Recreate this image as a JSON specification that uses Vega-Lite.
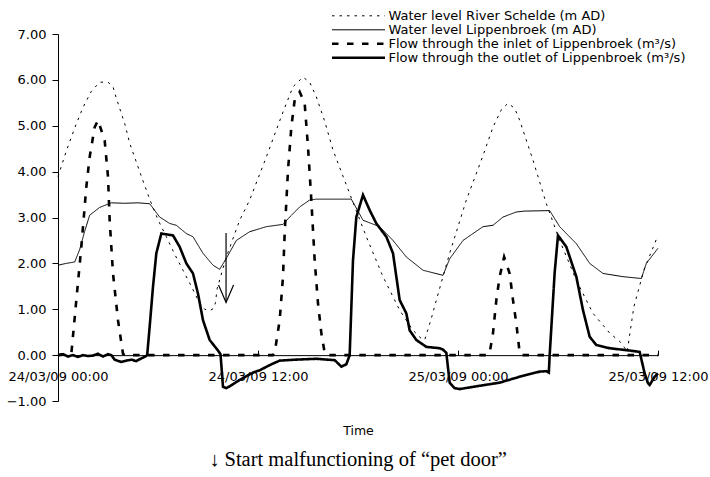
{
  "$schema": "https://vega.github.io/schema/vega-lite/v6.json",
  "width": 600,
  "height": 367,
  "autosize": {"type": "none"},
  "padding": {"left": 58, "top": 34, "right": 52, "bottom": 76},
  "background": "white",
  "config": {"view": {"stroke": null}, "font": "DejaVu Sans"},
  "title": {"text": "↓ Start malfunctioning of “pet door”", "orient": "bottom", "anchor": "middle", "font": "Liberation Serif", "fontSize": 20.5, "fontWeight": "normal", "color": "black", "offset": 13},
  "datasets": {
    "series": [
      {"series": "Water level River Schelde (m AD)", "time": "2009-03-24T00:00", "value": 3.89},
      {"series": "Water level River Schelde (m AD)", "time": "2009-03-24T00:30", "value": 4.45},
      {"series": "Water level River Schelde (m AD)", "time": "2009-03-24T01:00", "value": 4.95},
      {"series": "Water level River Schelde (m AD)", "time": "2009-03-24T01:30", "value": 5.4},
      {"series": "Water level River Schelde (m AD)", "time": "2009-03-24T02:00", "value": 5.75},
      {"series": "Water level River Schelde (m AD)", "time": "2009-03-24T02:30", "value": 5.95},
      {"series": "Water level River Schelde (m AD)", "time": "2009-03-24T03:00", "value": 5.95},
      {"series": "Water level River Schelde (m AD)", "time": "2009-03-24T03:18", "value": 5.85},
      {"series": "Water level River Schelde (m AD)", "time": "2009-03-24T03:30", "value": 5.6},
      {"series": "Water level River Schelde (m AD)", "time": "2009-03-24T04:00", "value": 5.05},
      {"series": "Water level River Schelde (m AD)", "time": "2009-03-24T04:18", "value": 4.62},
      {"series": "Water level River Schelde (m AD)", "time": "2009-03-24T05:00", "value": 3.9},
      {"series": "Water level River Schelde (m AD)", "time": "2009-03-24T05:30", "value": 3.4},
      {"series": "Water level River Schelde (m AD)", "time": "2009-03-24T06:00", "value": 2.95},
      {"series": "Water level River Schelde (m AD)", "time": "2009-03-24T06:30", "value": 2.58},
      {"series": "Water level River Schelde (m AD)", "time": "2009-03-24T07:00", "value": 2.2},
      {"series": "Water level River Schelde (m AD)", "time": "2009-03-24T07:30", "value": 1.85},
      {"series": "Water level River Schelde (m AD)", "time": "2009-03-24T08:00", "value": 1.5},
      {"series": "Water level River Schelde (m AD)", "time": "2009-03-24T08:30", "value": 1.13},
      {"series": "Water level River Schelde (m AD)", "time": "2009-03-24T08:48", "value": 1.0},
      {"series": "Water level River Schelde (m AD)", "time": "2009-03-24T09:06", "value": 0.97},
      {"series": "Water level River Schelde (m AD)", "time": "2009-03-24T09:21", "value": 1.02},
      {"series": "Water level River Schelde (m AD)", "time": "2009-03-24T09:27", "value": 1.15},
      {"series": "Water level River Schelde (m AD)", "time": "2009-03-24T09:33", "value": 1.45},
      {"series": "Water level River Schelde (m AD)", "time": "2009-03-24T10:06", "value": 2.14},
      {"series": "Water level River Schelde (m AD)", "time": "2009-03-24T10:54", "value": 2.94},
      {"series": "Water level River Schelde (m AD)", "time": "2009-03-24T11:30", "value": 3.38},
      {"series": "Water level River Schelde (m AD)", "time": "2009-03-24T12:30", "value": 4.32},
      {"series": "Water level River Schelde (m AD)", "time": "2009-03-24T13:30", "value": 5.3},
      {"series": "Water level River Schelde (m AD)", "time": "2009-03-24T14:06", "value": 5.85},
      {"series": "Water level River Schelde (m AD)", "time": "2009-03-24T14:42", "value": 6.06},
      {"series": "Water level River Schelde (m AD)", "time": "2009-03-24T15:06", "value": 5.95},
      {"series": "Water level River Schelde (m AD)", "time": "2009-03-24T15:30", "value": 5.63},
      {"series": "Water level River Schelde (m AD)", "time": "2009-03-24T16:00", "value": 5.1},
      {"series": "Water level River Schelde (m AD)", "time": "2009-03-24T16:30", "value": 4.47},
      {"series": "Water level River Schelde (m AD)", "time": "2009-03-24T17:30", "value": 3.52},
      {"series": "Water level River Schelde (m AD)", "time": "2009-03-24T18:30", "value": 2.58},
      {"series": "Water level River Schelde (m AD)", "time": "2009-03-24T19:30", "value": 1.71},
      {"series": "Water level River Schelde (m AD)", "time": "2009-03-24T20:30", "value": 0.98},
      {"series": "Water level River Schelde (m AD)", "time": "2009-03-24T21:18", "value": 0.54},
      {"series": "Water level River Schelde (m AD)", "time": "2009-03-24T21:48", "value": 0.36},
      {"series": "Water level River Schelde (m AD)", "time": "2009-03-24T22:00", "value": 0.33},
      {"series": "Water level River Schelde (m AD)", "time": "2009-03-24T22:24", "value": 0.8},
      {"series": "Water level River Schelde (m AD)", "time": "2009-03-24T22:42", "value": 1.2},
      {"series": "Water level River Schelde (m AD)", "time": "2009-03-24T23:30", "value": 2.22},
      {"series": "Water level River Schelde (m AD)", "time": "2009-03-25T00:30", "value": 3.38},
      {"series": "Water level River Schelde (m AD)", "time": "2009-03-25T01:30", "value": 4.35},
      {"series": "Water level River Schelde (m AD)", "time": "2009-03-25T02:06", "value": 4.97},
      {"series": "Water level River Schelde (m AD)", "time": "2009-03-25T02:36", "value": 5.35},
      {"series": "Water level River Schelde (m AD)", "time": "2009-03-25T03:00", "value": 5.49},
      {"series": "Water level River Schelde (m AD)", "time": "2009-03-25T03:24", "value": 5.38},
      {"series": "Water level River Schelde (m AD)", "time": "2009-03-25T03:42", "value": 5.12},
      {"series": "Water level River Schelde (m AD)", "time": "2009-03-25T04:30", "value": 4.25},
      {"series": "Water level River Schelde (m AD)", "time": "2009-03-25T05:18", "value": 3.3},
      {"series": "Water level River Schelde (m AD)", "time": "2009-03-25T06:06", "value": 2.5},
      {"series": "Water level River Schelde (m AD)", "time": "2009-03-25T07:06", "value": 1.63},
      {"series": "Water level River Schelde (m AD)", "time": "2009-03-25T08:06", "value": 0.91},
      {"series": "Water level River Schelde (m AD)", "time": "2009-03-25T09:06", "value": 0.48},
      {"series": "Water level River Schelde (m AD)", "time": "2009-03-25T09:42", "value": 0.3},
      {"series": "Water level River Schelde (m AD)", "time": "2009-03-25T10:00", "value": 0.16},
      {"series": "Water level River Schelde (m AD)", "time": "2009-03-25T10:09", "value": 0.07},
      {"series": "Water level River Schelde (m AD)", "time": "2009-03-25T10:33", "value": 1.05},
      {"series": "Water level River Schelde (m AD)", "time": "2009-03-25T11:09", "value": 1.85},
      {"series": "Water level River Schelde (m AD)", "time": "2009-03-25T12:00", "value": 2.61},

      {"series": "Water level Lippenbroek (m AD)", "time": "2009-03-24T00:00", "value": 1.96},
      {"series": "Water level Lippenbroek (m AD)", "time": "2009-03-24T00:30", "value": 2.0},
      {"series": "Water level Lippenbroek (m AD)", "time": "2009-03-24T01:00", "value": 2.03},
      {"series": "Water level Lippenbroek (m AD)", "time": "2009-03-24T01:18", "value": 2.3},
      {"series": "Water level Lippenbroek (m AD)", "time": "2009-03-24T01:36", "value": 2.7},
      {"series": "Water level Lippenbroek (m AD)", "time": "2009-03-24T01:54", "value": 3.05},
      {"series": "Water level Lippenbroek (m AD)", "time": "2009-03-24T02:30", "value": 3.22},
      {"series": "Water level Lippenbroek (m AD)", "time": "2009-03-24T03:12", "value": 3.32},
      {"series": "Water level Lippenbroek (m AD)", "time": "2009-03-24T04:00", "value": 3.31},
      {"series": "Water level Lippenbroek (m AD)", "time": "2009-03-24T04:48", "value": 3.32},
      {"series": "Water level Lippenbroek (m AD)", "time": "2009-03-24T05:30", "value": 3.3},
      {"series": "Water level Lippenbroek (m AD)", "time": "2009-03-24T06:06", "value": 3.01},
      {"series": "Water level Lippenbroek (m AD)", "time": "2009-03-24T06:42", "value": 2.87},
      {"series": "Water level Lippenbroek (m AD)", "time": "2009-03-24T07:06", "value": 2.83},
      {"series": "Water level Lippenbroek (m AD)", "time": "2009-03-24T07:42", "value": 2.65},
      {"series": "Water level Lippenbroek (m AD)", "time": "2009-03-24T08:06", "value": 2.58},
      {"series": "Water level Lippenbroek (m AD)", "time": "2009-03-24T08:42", "value": 2.22},
      {"series": "Water level Lippenbroek (m AD)", "time": "2009-03-24T09:18", "value": 1.96},
      {"series": "Water level Lippenbroek (m AD)", "time": "2009-03-24T09:42", "value": 1.87},
      {"series": "Water level Lippenbroek (m AD)", "time": "2009-03-24T10:06", "value": 2.11},
      {"series": "Water level Lippenbroek (m AD)", "time": "2009-03-24T10:42", "value": 2.5},
      {"series": "Water level Lippenbroek (m AD)", "time": "2009-03-24T11:30", "value": 2.69},
      {"series": "Water level Lippenbroek (m AD)", "time": "2009-03-24T12:30", "value": 2.8},
      {"series": "Water level Lippenbroek (m AD)", "time": "2009-03-24T13:30", "value": 2.85},
      {"series": "Water level Lippenbroek (m AD)", "time": "2009-03-24T13:54", "value": 3.01},
      {"series": "Water level Lippenbroek (m AD)", "time": "2009-03-24T14:30", "value": 3.23},
      {"series": "Water level Lippenbroek (m AD)", "time": "2009-03-24T15:06", "value": 3.38},
      {"series": "Water level Lippenbroek (m AD)", "time": "2009-03-24T15:30", "value": 3.4},
      {"series": "Water level Lippenbroek (m AD)", "time": "2009-03-24T17:36", "value": 3.4},
      {"series": "Water level Lippenbroek (m AD)", "time": "2009-03-24T18:18", "value": 2.94},
      {"series": "Water level Lippenbroek (m AD)", "time": "2009-03-24T19:18", "value": 2.8},
      {"series": "Water level Lippenbroek (m AD)", "time": "2009-03-24T20:06", "value": 2.5},
      {"series": "Water level Lippenbroek (m AD)", "time": "2009-03-24T20:54", "value": 2.14},
      {"series": "Water level Lippenbroek (m AD)", "time": "2009-03-24T21:54", "value": 1.85},
      {"series": "Water level Lippenbroek (m AD)", "time": "2009-03-24T23:06", "value": 1.74},
      {"series": "Water level Lippenbroek (m AD)", "time": "2009-03-24T23:30", "value": 2.1},
      {"series": "Water level Lippenbroek (m AD)", "time": "2009-03-25T00:18", "value": 2.5},
      {"series": "Water level Lippenbroek (m AD)", "time": "2009-03-25T01:30", "value": 2.8},
      {"series": "Water level Lippenbroek (m AD)", "time": "2009-03-25T02:06", "value": 2.83},
      {"series": "Water level Lippenbroek (m AD)", "time": "2009-03-25T02:42", "value": 3.01},
      {"series": "Water level Lippenbroek (m AD)", "time": "2009-03-25T03:30", "value": 3.12},
      {"series": "Water level Lippenbroek (m AD)", "time": "2009-03-25T04:00", "value": 3.14},
      {"series": "Water level Lippenbroek (m AD)", "time": "2009-03-25T05:30", "value": 3.15},
      {"series": "Water level Lippenbroek (m AD)", "time": "2009-03-25T06:06", "value": 2.8},
      {"series": "Water level Lippenbroek (m AD)", "time": "2009-03-25T07:06", "value": 2.43},
      {"series": "Water level Lippenbroek (m AD)", "time": "2009-03-25T07:54", "value": 2.0},
      {"series": "Water level Lippenbroek (m AD)", "time": "2009-03-25T08:42", "value": 1.78},
      {"series": "Water level Lippenbroek (m AD)", "time": "2009-03-25T09:54", "value": 1.71},
      {"series": "Water level Lippenbroek (m AD)", "time": "2009-03-25T11:00", "value": 1.67},
      {"series": "Water level Lippenbroek (m AD)", "time": "2009-03-25T11:18", "value": 2.0},
      {"series": "Water level Lippenbroek (m AD)", "time": "2009-03-25T12:00", "value": 2.33},

      {"series": "Flow through the inlet of Lippenbroek (m³/s)", "time": "2009-03-24T00:00", "value": 0},
      {"series": "Flow through the inlet of Lippenbroek (m³/s)", "time": "2009-03-24T00:48", "value": 0.03},
      {"series": "Flow through the inlet of Lippenbroek (m³/s)", "time": "2009-03-24T01:06", "value": 1.2},
      {"series": "Flow through the inlet of Lippenbroek (m³/s)", "time": "2009-03-24T01:24", "value": 2.36},
      {"series": "Flow through the inlet of Lippenbroek (m³/s)", "time": "2009-03-24T01:42", "value": 3.67},
      {"series": "Flow through the inlet of Lippenbroek (m³/s)", "time": "2009-03-24T01:54", "value": 4.32},
      {"series": "Flow through the inlet of Lippenbroek (m³/s)", "time": "2009-03-24T02:12", "value": 4.97},
      {"series": "Flow through the inlet of Lippenbroek (m³/s)", "time": "2009-03-24T02:24", "value": 5.12},
      {"series": "Flow through the inlet of Lippenbroek (m³/s)", "time": "2009-03-24T02:48", "value": 4.68},
      {"series": "Flow through the inlet of Lippenbroek (m³/s)", "time": "2009-03-24T03:00", "value": 3.89},
      {"series": "Flow through the inlet of Lippenbroek (m³/s)", "time": "2009-03-24T03:06", "value": 2.94},
      {"series": "Flow through the inlet of Lippenbroek (m³/s)", "time": "2009-03-24T03:18", "value": 1.78},
      {"series": "Flow through the inlet of Lippenbroek (m³/s)", "time": "2009-03-24T03:36", "value": 0.76},
      {"series": "Flow through the inlet of Lippenbroek (m³/s)", "time": "2009-03-24T03:54", "value": 0.03},
      {"series": "Flow through the inlet of Lippenbroek (m³/s)", "time": "2009-03-24T04:00", "value": 0},
      {"series": "Flow through the inlet of Lippenbroek (m³/s)", "time": "2009-03-24T12:54", "value": 0},
      {"series": "Flow through the inlet of Lippenbroek (m³/s)", "time": "2009-03-24T13:00", "value": 0.05},
      {"series": "Flow through the inlet of Lippenbroek (m³/s)", "time": "2009-03-24T13:18", "value": 0.76},
      {"series": "Flow through the inlet of Lippenbroek (m³/s)", "time": "2009-03-24T13:30", "value": 1.71},
      {"series": "Flow through the inlet of Lippenbroek (m³/s)", "time": "2009-03-24T13:36", "value": 2.65},
      {"series": "Flow through the inlet of Lippenbroek (m³/s)", "time": "2009-03-24T13:48", "value": 4.03},
      {"series": "Flow through the inlet of Lippenbroek (m³/s)", "time": "2009-03-24T14:00", "value": 4.97},
      {"series": "Flow through the inlet of Lippenbroek (m³/s)", "time": "2009-03-24T14:12", "value": 5.56},
      {"series": "Flow through the inlet of Lippenbroek (m³/s)", "time": "2009-03-24T14:30", "value": 5.74},
      {"series": "Flow through the inlet of Lippenbroek (m³/s)", "time": "2009-03-24T14:48", "value": 5.49},
      {"series": "Flow through the inlet of Lippenbroek (m³/s)", "time": "2009-03-24T15:00", "value": 4.54},
      {"series": "Flow through the inlet of Lippenbroek (m³/s)", "time": "2009-03-24T15:12", "value": 3.38},
      {"series": "Flow through the inlet of Lippenbroek (m³/s)", "time": "2009-03-24T15:24", "value": 2.07},
      {"series": "Flow through the inlet of Lippenbroek (m³/s)", "time": "2009-03-24T15:36", "value": 1.13},
      {"series": "Flow through the inlet of Lippenbroek (m³/s)", "time": "2009-03-24T15:48", "value": 0.48},
      {"series": "Flow through the inlet of Lippenbroek (m³/s)", "time": "2009-03-24T16:00", "value": 0.05},
      {"series": "Flow through the inlet of Lippenbroek (m³/s)", "time": "2009-03-24T16:06", "value": 0},
      {"series": "Flow through the inlet of Lippenbroek (m³/s)", "time": "2009-03-25T01:48", "value": 0},
      {"series": "Flow through the inlet of Lippenbroek (m³/s)", "time": "2009-03-25T01:54", "value": 0.05},
      {"series": "Flow through the inlet of Lippenbroek (m³/s)", "time": "2009-03-25T02:06", "value": 0.48},
      {"series": "Flow through the inlet of Lippenbroek (m³/s)", "time": "2009-03-25T02:18", "value": 1.2},
      {"series": "Flow through the inlet of Lippenbroek (m³/s)", "time": "2009-03-25T02:30", "value": 1.71},
      {"series": "Flow through the inlet of Lippenbroek (m³/s)", "time": "2009-03-25T02:46", "value": 2.14},
      {"series": "Flow through the inlet of Lippenbroek (m³/s)", "time": "2009-03-25T03:06", "value": 1.78},
      {"series": "Flow through the inlet of Lippenbroek (m³/s)", "time": "2009-03-25T03:18", "value": 1.2},
      {"series": "Flow through the inlet of Lippenbroek (m³/s)", "time": "2009-03-25T03:30", "value": 0.69},
      {"series": "Flow through the inlet of Lippenbroek (m³/s)", "time": "2009-03-25T03:42", "value": 0.05},
      {"series": "Flow through the inlet of Lippenbroek (m³/s)", "time": "2009-03-25T03:48", "value": 0},
      {"series": "Flow through the inlet of Lippenbroek (m³/s)", "time": "2009-03-25T12:00", "value": 0},

      {"series": "Flow through the outlet of Lippenbroek (m³/s)", "time": "2009-03-24T00:00", "value": 0.0},
      {"series": "Flow through the outlet of Lippenbroek (m³/s)", "time": "2009-03-24T00:18", "value": 0.02},
      {"series": "Flow through the outlet of Lippenbroek (m³/s)", "time": "2009-03-24T00:36", "value": -0.03},
      {"series": "Flow through the outlet of Lippenbroek (m³/s)", "time": "2009-03-24T00:54", "value": 0.0},
      {"series": "Flow through the outlet of Lippenbroek (m³/s)", "time": "2009-03-24T01:12", "value": -0.04},
      {"series": "Flow through the outlet of Lippenbroek (m³/s)", "time": "2009-03-24T01:30", "value": 0.0},
      {"series": "Flow through the outlet of Lippenbroek (m³/s)", "time": "2009-03-24T01:48", "value": -0.02},
      {"series": "Flow through the outlet of Lippenbroek (m³/s)", "time": "2009-03-24T02:06", "value": -0.01},
      {"series": "Flow through the outlet of Lippenbroek (m³/s)", "time": "2009-03-24T02:24", "value": 0.03},
      {"series": "Flow through the outlet of Lippenbroek (m³/s)", "time": "2009-03-24T02:42", "value": -0.03},
      {"series": "Flow through the outlet of Lippenbroek (m³/s)", "time": "2009-03-24T03:00", "value": 0.02},
      {"series": "Flow through the outlet of Lippenbroek (m³/s)", "time": "2009-03-24T03:12", "value": 0.0},
      {"series": "Flow through the outlet of Lippenbroek (m³/s)", "time": "2009-03-24T03:24", "value": -0.1},
      {"series": "Flow through the outlet of Lippenbroek (m³/s)", "time": "2009-03-24T03:48", "value": -0.15},
      {"series": "Flow through the outlet of Lippenbroek (m³/s)", "time": "2009-03-24T04:06", "value": -0.12},
      {"series": "Flow through the outlet of Lippenbroek (m³/s)", "time": "2009-03-24T04:24", "value": -0.1},
      {"series": "Flow through the outlet of Lippenbroek (m³/s)", "time": "2009-03-24T04:42", "value": -0.13},
      {"series": "Flow through the outlet of Lippenbroek (m³/s)", "time": "2009-03-24T05:00", "value": -0.07},
      {"series": "Flow through the outlet of Lippenbroek (m³/s)", "time": "2009-03-24T05:15", "value": -0.03},
      {"series": "Flow through the outlet of Lippenbroek (m³/s)", "time": "2009-03-24T05:21", "value": 0.0},
      {"series": "Flow through the outlet of Lippenbroek (m³/s)", "time": "2009-03-24T05:30", "value": 0.62},
      {"series": "Flow through the outlet of Lippenbroek (m³/s)", "time": "2009-03-24T05:42", "value": 1.49},
      {"series": "Flow through the outlet of Lippenbroek (m³/s)", "time": "2009-03-24T05:54", "value": 2.22},
      {"series": "Flow through the outlet of Lippenbroek (m³/s)", "time": "2009-03-24T06:12", "value": 2.65},
      {"series": "Flow through the outlet of Lippenbroek (m³/s)", "time": "2009-03-24T06:54", "value": 2.61},
      {"series": "Flow through the outlet of Lippenbroek (m³/s)", "time": "2009-03-24T07:18", "value": 2.36},
      {"series": "Flow through the outlet of Lippenbroek (m³/s)", "time": "2009-03-24T07:42", "value": 2.0},
      {"series": "Flow through the outlet of Lippenbroek (m³/s)", "time": "2009-03-24T08:06", "value": 1.78},
      {"series": "Flow through the outlet of Lippenbroek (m³/s)", "time": "2009-03-24T08:24", "value": 1.34},
      {"series": "Flow through the outlet of Lippenbroek (m³/s)", "time": "2009-03-24T08:42", "value": 0.76},
      {"series": "Flow through the outlet of Lippenbroek (m³/s)", "time": "2009-03-24T09:06", "value": 0.33},
      {"series": "Flow through the outlet of Lippenbroek (m³/s)", "time": "2009-03-24T09:36", "value": 0.1},
      {"series": "Flow through the outlet of Lippenbroek (m³/s)", "time": "2009-03-24T09:45", "value": 0.02},
      {"series": "Flow through the outlet of Lippenbroek (m³/s)", "time": "2009-03-24T09:54", "value": -0.69},
      {"series": "Flow through the outlet of Lippenbroek (m³/s)", "time": "2009-03-24T10:06", "value": -0.72},
      {"series": "Flow through the outlet of Lippenbroek (m³/s)", "time": "2009-03-24T10:18", "value": -0.68},
      {"series": "Flow through the outlet of Lippenbroek (m³/s)", "time": "2009-03-24T10:54", "value": -0.54},
      {"series": "Flow through the outlet of Lippenbroek (m³/s)", "time": "2009-03-24T11:42", "value": -0.38},
      {"series": "Flow through the outlet of Lippenbroek (m³/s)", "time": "2009-03-24T12:06", "value": -0.33},
      {"series": "Flow through the outlet of Lippenbroek (m³/s)", "time": "2009-03-24T12:48", "value": -0.2},
      {"series": "Flow through the outlet of Lippenbroek (m³/s)", "time": "2009-03-24T13:18", "value": -0.12},
      {"series": "Flow through the outlet of Lippenbroek (m³/s)", "time": "2009-03-24T14:12", "value": -0.1},
      {"series": "Flow through the outlet of Lippenbroek (m³/s)", "time": "2009-03-24T15:30", "value": -0.08},
      {"series": "Flow through the outlet of Lippenbroek (m³/s)", "time": "2009-03-24T16:36", "value": -0.11},
      {"series": "Flow through the outlet of Lippenbroek (m³/s)", "time": "2009-03-24T17:00", "value": -0.25},
      {"series": "Flow through the outlet of Lippenbroek (m³/s)", "time": "2009-03-24T17:18", "value": -0.2},
      {"series": "Flow through the outlet of Lippenbroek (m³/s)", "time": "2009-03-24T17:30", "value": 0.0},
      {"series": "Flow through the outlet of Lippenbroek (m³/s)", "time": "2009-03-24T17:42", "value": 2.07},
      {"series": "Flow through the outlet of Lippenbroek (m³/s)", "time": "2009-03-24T17:54", "value": 3.01},
      {"series": "Flow through the outlet of Lippenbroek (m³/s)", "time": "2009-03-24T18:18", "value": 3.49},
      {"series": "Flow through the outlet of Lippenbroek (m³/s)", "time": "2009-03-24T18:42", "value": 3.16},
      {"series": "Flow through the outlet of Lippenbroek (m³/s)", "time": "2009-03-24T19:06", "value": 2.87},
      {"series": "Flow through the outlet of Lippenbroek (m³/s)", "time": "2009-03-24T19:42", "value": 2.58},
      {"series": "Flow through the outlet of Lippenbroek (m³/s)", "time": "2009-03-24T20:06", "value": 2.22},
      {"series": "Flow through the outlet of Lippenbroek (m³/s)", "time": "2009-03-24T20:18", "value": 1.71},
      {"series": "Flow through the outlet of Lippenbroek (m³/s)", "time": "2009-03-24T20:30", "value": 1.2},
      {"series": "Flow through the outlet of Lippenbroek (m³/s)", "time": "2009-03-24T20:54", "value": 0.91},
      {"series": "Flow through the outlet of Lippenbroek (m³/s)", "time": "2009-03-24T21:06", "value": 0.54},
      {"series": "Flow through the outlet of Lippenbroek (m³/s)", "time": "2009-03-24T21:30", "value": 0.33},
      {"series": "Flow through the outlet of Lippenbroek (m³/s)", "time": "2009-03-24T22:06", "value": 0.18},
      {"series": "Flow through the outlet of Lippenbroek (m³/s)", "time": "2009-03-24T22:54", "value": 0.15},
      {"series": "Flow through the outlet of Lippenbroek (m³/s)", "time": "2009-03-24T23:06", "value": 0.12},
      {"series": "Flow through the outlet of Lippenbroek (m³/s)", "time": "2009-03-24T23:18", "value": 0.05},
      {"series": "Flow through the outlet of Lippenbroek (m³/s)", "time": "2009-03-24T23:30", "value": -0.6},
      {"series": "Flow through the outlet of Lippenbroek (m³/s)", "time": "2009-03-24T23:48", "value": -0.72},
      {"series": "Flow through the outlet of Lippenbroek (m³/s)", "time": "2009-03-25T00:06", "value": -0.74},
      {"series": "Flow through the outlet of Lippenbroek (m³/s)", "time": "2009-03-25T01:06", "value": -0.68},
      {"series": "Flow through the outlet of Lippenbroek (m³/s)", "time": "2009-03-25T02:30", "value": -0.6},
      {"series": "Flow through the outlet of Lippenbroek (m³/s)", "time": "2009-03-25T03:48", "value": -0.46},
      {"series": "Flow through the outlet of Lippenbroek (m³/s)", "time": "2009-03-25T04:54", "value": -0.36},
      {"series": "Flow through the outlet of Lippenbroek (m³/s)", "time": "2009-03-25T05:18", "value": -0.35},
      {"series": "Flow through the outlet of Lippenbroek (m³/s)", "time": "2009-03-25T05:27", "value": -0.38},
      {"series": "Flow through the outlet of Lippenbroek (m³/s)", "time": "2009-03-25T05:30", "value": 0.0},
      {"series": "Flow through the outlet of Lippenbroek (m³/s)", "time": "2009-03-25T05:48", "value": 1.8},
      {"series": "Flow through the outlet of Lippenbroek (m³/s)", "time": "2009-03-25T06:00", "value": 2.61},
      {"series": "Flow through the outlet of Lippenbroek (m³/s)", "time": "2009-03-25T06:30", "value": 2.36},
      {"series": "Flow through the outlet of Lippenbroek (m³/s)", "time": "2009-03-25T07:06", "value": 1.71},
      {"series": "Flow through the outlet of Lippenbroek (m³/s)", "time": "2009-03-25T07:30", "value": 0.98},
      {"series": "Flow through the outlet of Lippenbroek (m³/s)", "time": "2009-03-25T07:54", "value": 0.4},
      {"series": "Flow through the outlet of Lippenbroek (m³/s)", "time": "2009-03-25T08:18", "value": 0.22},
      {"series": "Flow through the outlet of Lippenbroek (m³/s)", "time": "2009-03-25T09:06", "value": 0.15},
      {"series": "Flow through the outlet of Lippenbroek (m³/s)", "time": "2009-03-25T10:18", "value": 0.1},
      {"series": "Flow through the outlet of Lippenbroek (m³/s)", "time": "2009-03-25T10:54", "value": 0.07},
      {"series": "Flow through the outlet of Lippenbroek (m³/s)", "time": "2009-03-25T11:12", "value": -0.4},
      {"series": "Flow through the outlet of Lippenbroek (m³/s)", "time": "2009-03-25T11:24", "value": -0.61},
      {"series": "Flow through the outlet of Lippenbroek (m³/s)", "time": "2009-03-25T11:30", "value": -0.65},
      {"series": "Flow through the outlet of Lippenbroek (m³/s)", "time": "2009-03-25T11:48", "value": -0.47},
      {"series": "Flow through the outlet of Lippenbroek (m³/s)", "time": "2009-03-25T12:00", "value": -0.4}
    ],
    "arrow": [
      {"part": "shaft", "seq": 1, "time": "2009-03-24T10:05", "value": 2.66},
      {"part": "shaft", "seq": 2, "time": "2009-03-24T10:05", "value": 1.15},
      {"part": "head", "seq": 1, "time": "2009-03-24T09:38", "value": 1.53},
      {"part": "head", "seq": 2, "time": "2009-03-24T10:05", "value": 1.15},
      {"part": "head", "seq": 3, "time": "2009-03-24T10:32", "value": 1.53}
    ]
  },
  "layer": [
    {
      "data": {"name": "series"},
      "mark": {"type": "line", "color": "black", "strokeCap": "butt", "clip": false},
      "encoding": {
        "x": {
          "field": "time", "type": "temporal", "title": "Time",
          "scale": {"domain": [{"year": 2009, "month": 3, "date": 24, "hours": 0}, {"year": 2009, "month": 3, "date": 25, "hours": 12}]},
          "axis": {
            "values": [{"year": 2009, "month": 3, "date": 24, "hours": 0}, {"year": 2009, "month": 3, "date": 24, "hours": 12}, {"year": 2009, "month": 3, "date": 25, "hours": 0}, {"year": 2009, "month": 3, "date": 25, "hours": 12}],
            "format": "%d/%m/%y %H:%M",
            "offset": -45.875,
            "grid": false,
            "tickSize": -5,
            "tickColor": "black",
            "domainColor": "black",
            "labelPadding": 30,
            "labelBaseline": "alphabetic",
            "labelFont": "DejaVu Sans",
            "labelFontSize": 13,
            "labelColor": "black",
            "labelFlush": false,
            "labelOverlap": false,
            "titleFont": "DejaVu Sans",
            "titleFontSize": 12.5,
            "titleFontWeight": "normal",
            "titleColor": "black",
            "titleBaseline": "alphabetic",
            "titleY": 79
          }
        },
        "y": {
          "field": "value", "type": "quantitative", "title": null,
          "scale": {"domain": [-1, 7], "nice": false, "zero": false},
          "axis": {
            "values": [-1, 0, 1, 2, 3, 4, 5, 6, 7],
            "format": ".2f",
            "grid": false,
            "tickSize": 6,
            "tickColor": "black",
            "domainColor": "black",
            "labelPadding": 6,
            "labelFont": "DejaVu Sans",
            "labelFontSize": 13,
            "labelColor": "black"
          }
        },
        "strokeDash": {
          "field": "series", "type": "nominal",
          "scale": {"domain": ["Water level River Schelde (m AD)", "Water level Lippenbroek (m AD)", "Flow through the inlet of Lippenbroek (m³/s)", "Flow through the outlet of Lippenbroek (m³/s)"], "range": [[2.5, 5], [1, 0], [6.5, 8.5], [1, 0]]},
          "legend": {"title": null, "orient": "none", "legendX": 272.5, "legendY": -24.5, "symbolType": "stroke", "symbolSize": 2809, "clipHeight": 12.6, "rowPadding": 0, "padding": 0, "labelOffset": 2, "labelFont": "DejaVu Sans", "labelFontSize": 13, "labelColor": "black", "labelLimit": 400, "symbolStrokeColor": "black"}
        },
        "strokeWidth": {
          "field": "series", "type": "nominal",
          "scale": {"type": "ordinal", "domain": ["Water level River Schelde (m AD)", "Water level Lippenbroek (m AD)", "Flow through the inlet of Lippenbroek (m³/s)", "Flow through the outlet of Lippenbroek (m³/s)"], "range": [1, 1, 2.6, 2.6]},
          "legend": {"title": null, "orient": "none", "legendX": 272.5, "legendY": -24.5, "symbolType": "stroke", "symbolSize": 2809, "clipHeight": 12.6, "rowPadding": 0, "padding": 0, "labelOffset": 2, "labelFont": "DejaVu Sans", "labelFontSize": 13, "labelColor": "black", "labelLimit": 400, "symbolStrokeColor": "black"}
        }
      }
    },
    {
      "data": {"name": "arrow"},
      "mark": {"type": "line", "color": "black", "strokeWidth": 1.2},
      "encoding": {
        "x": {"field": "time", "type": "temporal"},
        "y": {"field": "value", "type": "quantitative"},
        "detail": {"field": "part", "type": "nominal"},
        "order": {"field": "seq", "type": "quantitative"}
      }
    }
  ]
}
